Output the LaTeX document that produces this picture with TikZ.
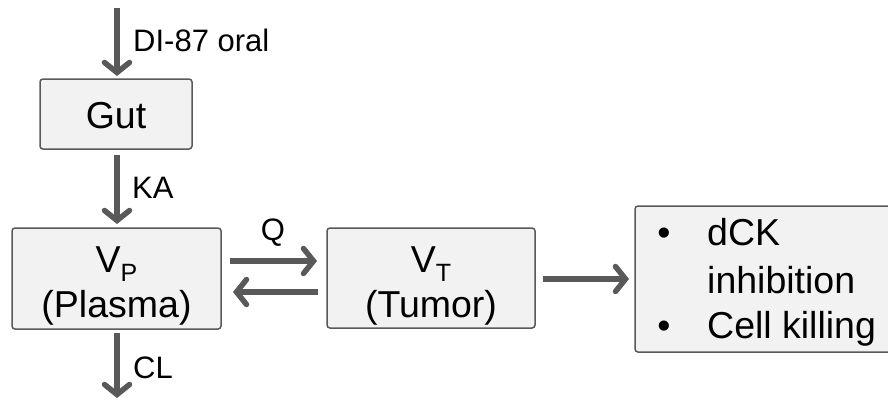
\documentclass[tikz,border=0pt]{standalone}
\usepackage{fontspec}
\setmainfont{Liberation Sans}
\usetikzlibrary{arrows.meta}
\definecolor{boxfill}{HTML}{F2F2F2}
\definecolor{edgegray}{HTML}{595959}
\newcommand{\mainsize}{\fontsize{37.5}{45}\selectfont}
\newcommand{\labelsize}{\fontsize{31}{36}\selectfont}
\newcommand{\subsc}[1]{\raisebox{-0.25em}{\fontsize{25}{25}\selectfont #1}}
\tikzset{
  compartment/.style={draw=edgegray, fill=boxfill, line width=1.5pt,
    rounded corners=3pt, inner sep=0pt},
  flow/.style={draw=edgegray, line width=5.5pt,
    -{Straight Barb[length=10pt, width=25pt, line cap=round]}},
  flowlabel/.style={font=\labelsize, inner sep=0pt, anchor=base west},
  boxtext/.style={font=\mainsize, inner sep=0pt, anchor=base},
}
\begin{document}
\begin{tikzpicture}[x=1pt, y=-1pt]
\useasboundingbox (0,0) rectangle (888,402);

% compartments
\path[compartment] (40,79) rectangle (192,149);
\node (gut) at (116,114) [minimum width=152pt, minimum height=70pt] {};
\node[boxtext] at (116,128) {Gut};

\path[compartment] (12,228) rectangle (221,329);
\node (vp) at (116.5,278.5) [minimum width=209pt, minimum height=101pt] {};
\node[boxtext] at (116.5,272) {V\subsc{P}};
\node[boxtext] at (116.5,317) {(Plasma)};

\path[compartment] (327,228) rectangle (535,328);
\node (vt) at (431,278) [minimum width=208pt, minimum height=100pt] {};
\node[boxtext] at (431,272) {V\subsc{T}};
\node[boxtext] at (431,317) {(Tumor)};

% effect box runs on past the right edge
\path[compartment] (635,206) rectangle (940,352);
\node (eff) at (787,279) [minimum width=305pt, minimum height=146pt] {};
\node[boxtext] at (664,245) {•};
\node[boxtext, anchor=base west] at (707,245) {dCK};
\node[boxtext, anchor=base west] at (707,293) {inhibition};
\node[boxtext] at (664,338) {•};
\node[boxtext, anchor=base west] at (707,338) {Cell killing};

% dosing and elimination end points
\coordinate (dose) at (117,8);
\coordinate (sink) at (117,398);

% flows
\draw[flow] (dose) -- (117,76);
\node[flowlabel] at (133,51) {DI-87 oral};

\draw[flow] (117,155) -- (117,224);
\node[flowlabel] at (132,198) {KA};

\draw[flow] (230,261) -- (317,261);
\node[font=\labelsize, inner sep=0pt, anchor=base] at (273,240) {Q};
\draw[flow] (318,292) -- (233,292);

\draw[flow] (543,279) -- (629,279);

\draw[flow] (117,333) -- (sink);
\node[flowlabel] at (133,378) {CL};
\end{tikzpicture}
\end{document}
